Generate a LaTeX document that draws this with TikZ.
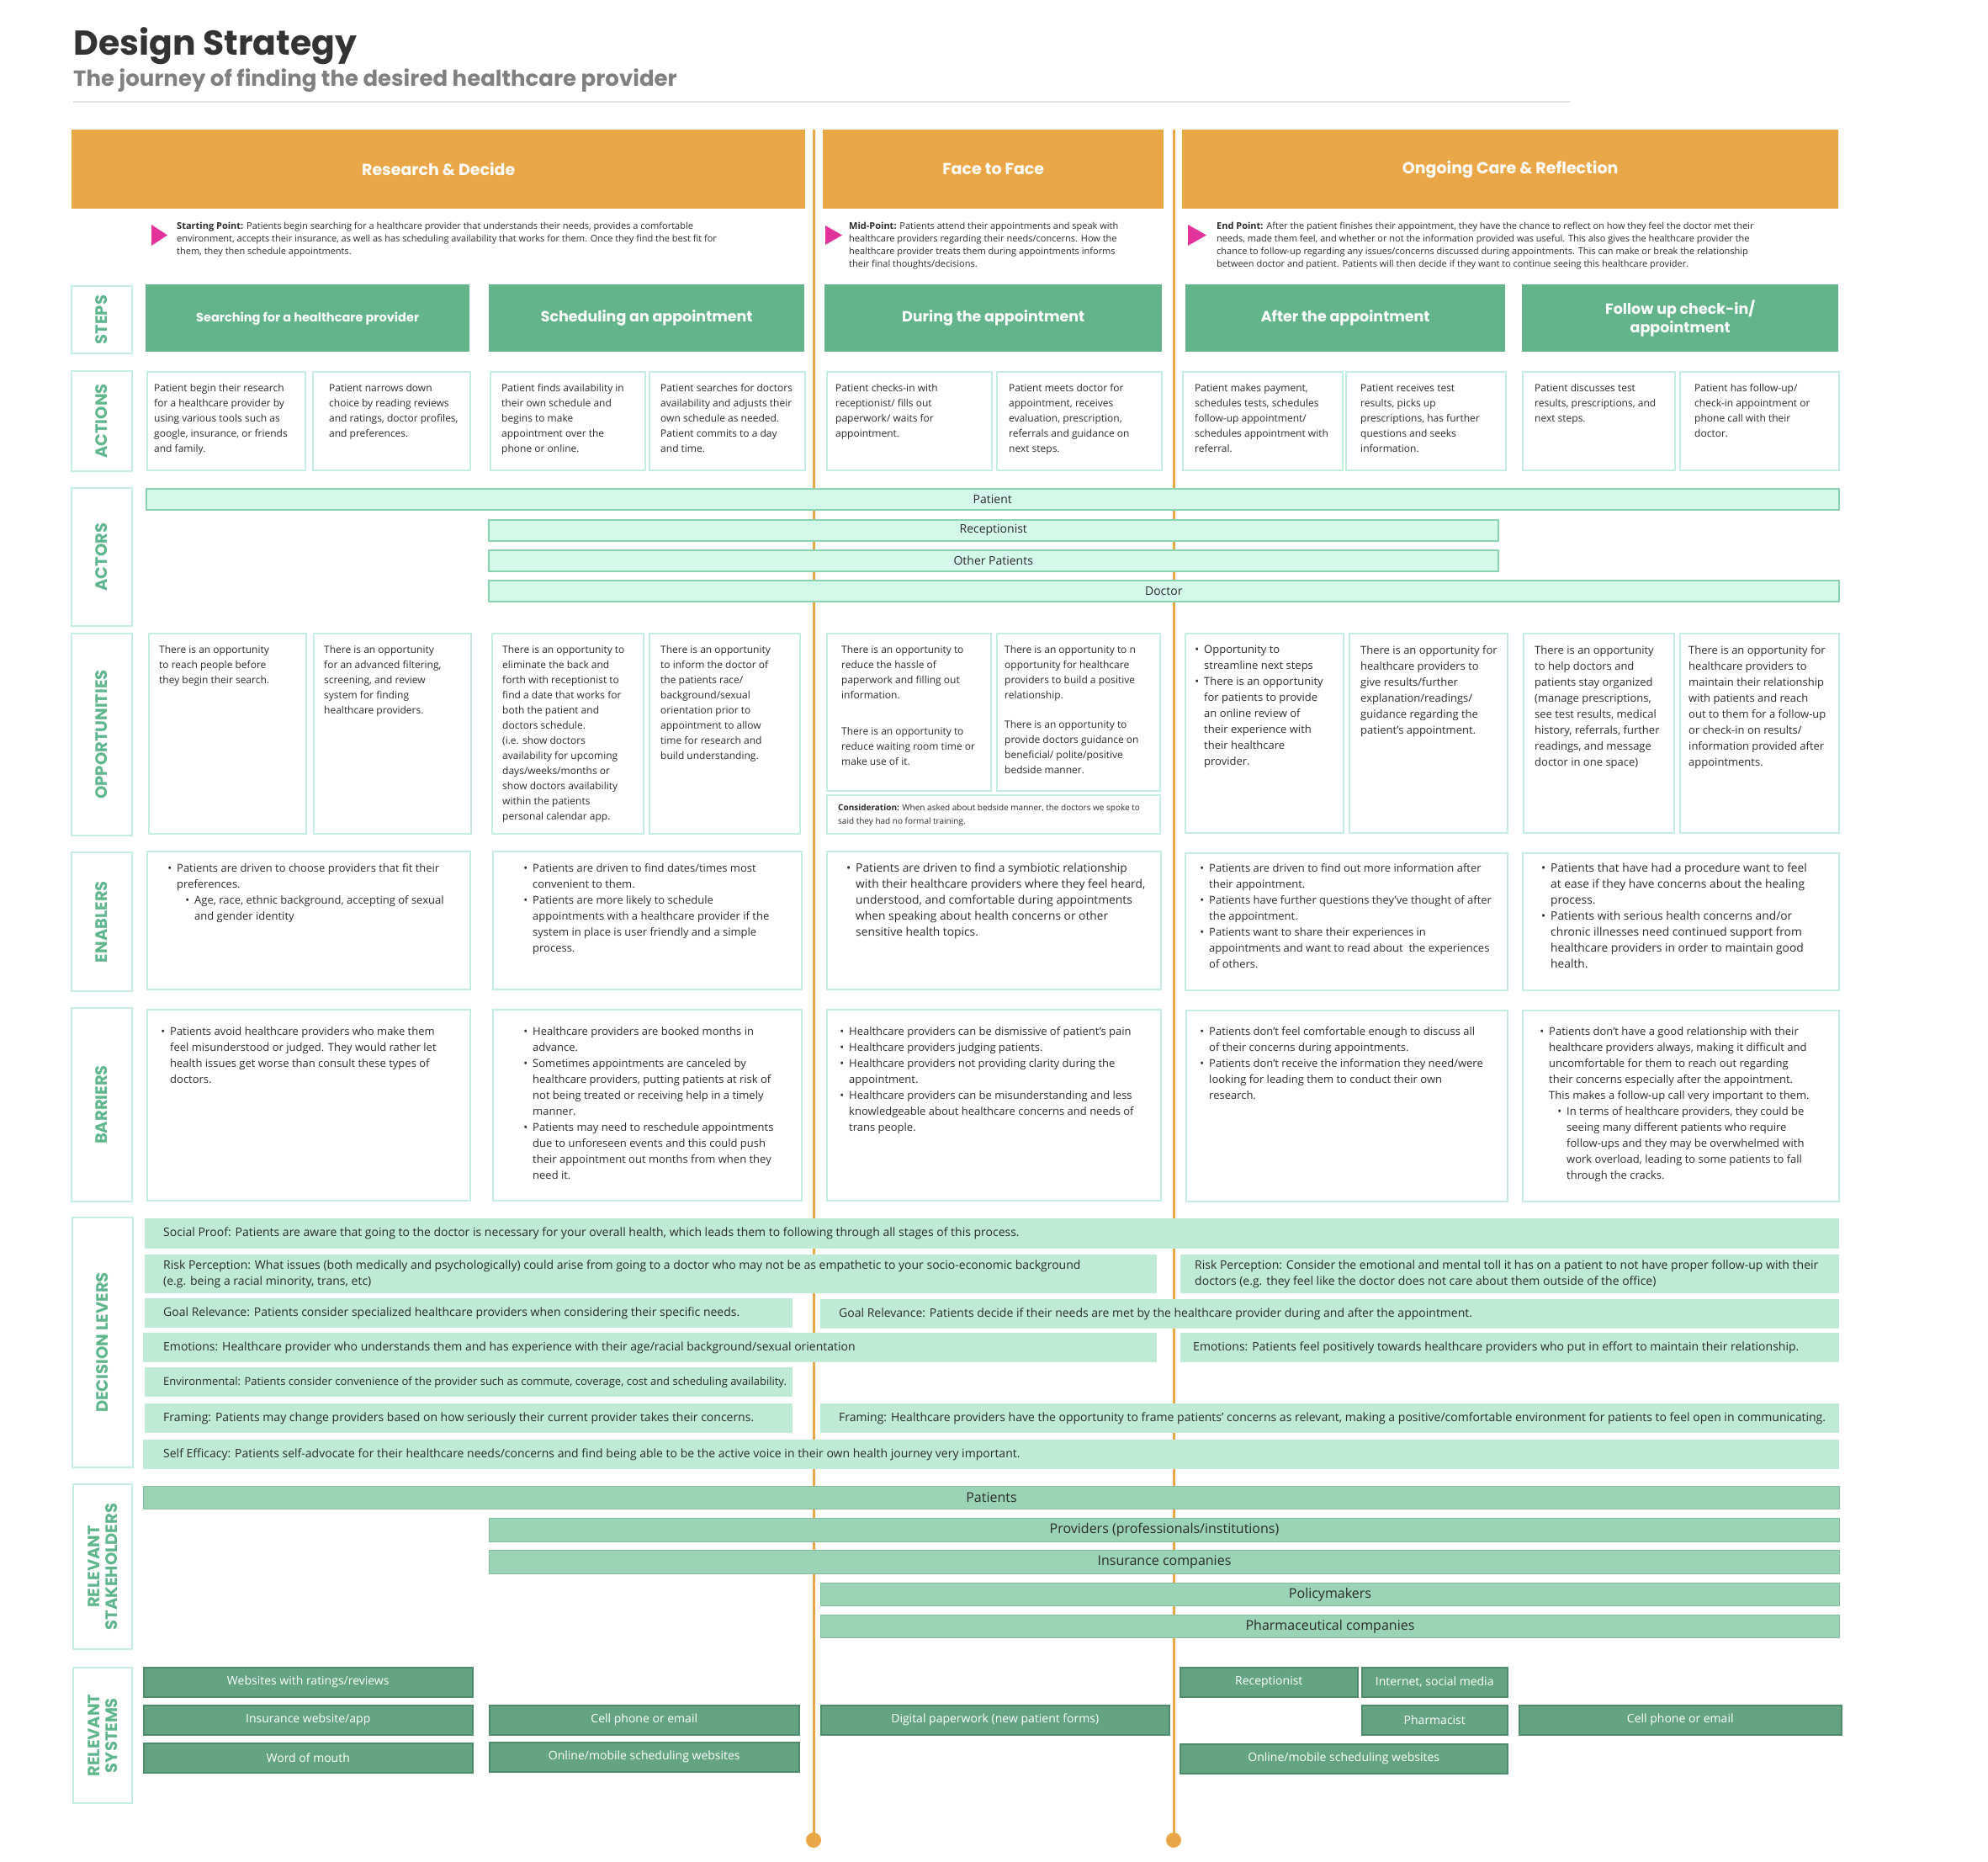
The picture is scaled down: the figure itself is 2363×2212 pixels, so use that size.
\documentclass[tikz,border=0pt]{standalone}
\usepackage{fontspec}
\setmainfont{Open Sans}
\newfontfamily\headfont{Poppins}
\usetikzlibrary{positioning}
\definecolor{phaseorange}{HTML}{EAA747}
\definecolor{markpink}{HTML}{E2329B}
\definecolor{stepgreen}{HTML}{63B38B}
\definecolor{mintline}{HTML}{C3EEDB}
\definecolor{labelgreen}{HTML}{5FB68C}
\definecolor{actorfill}{HTML}{D4F9EA}
\definecolor{actorline}{HTML}{8AD3B1}
\definecolor{leverfill}{HTML}{BFEBD6}
\definecolor{stakefill}{HTML}{9BD3B6}
\definecolor{stakeline}{HTML}{82BC9D}
\definecolor{sysfill}{HTML}{64A482}
\definecolor{sysline}{HTML}{4E8B6B}
\definecolor{inkgray}{HTML}{333333}
\definecolor{subgray}{HTML}{808080}
\definecolor{rulegray}{HTML}{E2E2E2}
\definecolor{bodytext}{HTML}{2B2B2B}
\newcommand\bul{\leavevmode\llap{\textbullet\hspace{6pt}}}

\begin{document}
\begin{tikzpicture}[x=1pt, y=-1pt,
  phase/.style={fill=phaseorange, text=white, anchor=north west, inner sep=0,
    font=\headfont\bfseries\fontsize{19}{23}\selectfont},
  intro/.style={anchor=north west, inner sep=0, align=left, text=bodytext,
    font=\fontsize{11}{15}\selectfont},
  rowbox/.style={draw=mintline, line width=2pt, anchor=north west, inner sep=0},
  rowname/.style={rotate=90, text=labelgreen, align=center, inner sep=0,
    font=\headfont\bfseries\fontsize{19.5}{21}\selectfont},
  stepbox/.style={fill=stepgreen, text=white, anchor=north west, inner sep=0,
    align=center, minimum height=80pt,
    font=\headfont\bfseries\fontsize{17.5}{22}\selectfont},
  card/.style={draw=mintline, line width=2pt, fill=white, anchor=north west, inner sep=0},
  cardtext/.style={anchor=north west, inner sep=0, align=left, text=bodytext,
    font=\fontsize{12}{18}\selectfont},
  cardtall/.style={cardtext, font=\fontsize{13}{19}\selectfont},
  cardwide/.style={cardtext, font=\fontsize{13.8}{19}\selectfont},
  actorbar/.style={draw=actorline, line width=1.5pt, fill=actorfill, anchor=north west,
    inner sep=0, minimum height=25pt, text=bodytext, font=\fontsize{14}{16}\selectfont},
  lever/.style={fill=leverfill, anchor=north west, inner sep=0},
  levertext/.style={inner sep=0, align=left, text=bodytext,
    font=\fontsize{14}{19}\selectfont},
  stake/.style={fill=stakefill, draw=stakeline, line width=1pt, anchor=north west,
    inner sep=0, minimum height=27pt, text=bodytext, font=\fontsize{16}{18}\selectfont},
  system/.style={fill=sysfill, draw=sysline, line width=1.5pt, anchor=north west,
    inner sep=0, minimum height=35pt, text=white, font=\fontsize{14}{16}\selectfont},
  timeline/.style={draw=phaseorange, line width=3pt},
  enddot/.style={circle, fill=phaseorange, minimum size=18pt, inner sep=0}]
\fill[white] (0,0) rectangle (2363,2212);
\useasboundingbox (0,0) rectangle (2363,2212);
% phase dividers
\coordinate (splitA) at (967,154);
\coordinate (splitB) at (1395,154);
\node[enddot] (endA) at (967,2187) {};
\node[enddot] (endB) at (1395,2187) {};
\draw[timeline] (splitA) -- (endA.center);
\draw[timeline] (splitB) -- (endB.center);
% title
\node[anchor=base west, inner sep=0, text=inkgray,
  font=\headfont\bfseries\fontsize{41}{46}\selectfont] (title) at (87,65) {Design Strategy};
\node[anchor=base west, inner sep=0, text=subgray,
  font=\headfont\bfseries\fontsize{26}{29}\selectfont] (subtitle) at (87,102)
  {The journey of finding the desired healthcare provider};
\draw[rulegray, line width=2pt] (87,121) -- (1866,121);
% phases
\node[phase, minimum width=872pt, minimum height=94pt] (research) at (85,154) {Research \& Decide};
\node[phase, minimum width=405pt, minimum height=94pt] (face) at (978,154) {Face to Face};
\node[phase, minimum width=780pt, minimum height=94pt] (ongoing) at (1405,154) {Ongoing Care \& Reflection};
\fill[markpink] (180,267) -- (199,279.5) -- (180,292) -- cycle;
\fill[markpink] (981,268) -- (1001,279.5) -- (981,291) -- cycle;
\fill[markpink] (1412,267) -- (1434,279.5) -- (1412,292) -- cycle;
\node[intro] (startpt) at (210,264) {\textbf{Starting Point:} Patients begin searching for a healthcare provider that understands their needs, provides a comfortable\\
  environment, accepts their insurance, as well as has scheduling availability that works for them. Once they find the best fit for\\
  them, they then schedule appointments.};
\node[intro] (midpt) at (1009,264) {\textbf{Mid-Point:} Patients attend their appointments and speak with\\
  healthcare providers regarding their needs/concerns. How the\\
  healthcare provider treats them during appointments informs\\
  their final thoughts/decisions.};
\node[intro] (endpt) at (1446,264) {\textbf{End Point:} After the patient finishes their appointment, they have the chance to reflect on how they feel the doctor met their\\
  needs, made them feel, and whether or not the information provided was useful. This also gives the healthcare provider the\\
  chance to follow-up regarding any issues/concerns discussed during appointments. This can make or break the relationship\\
  between doctor and patient. Patients will then decide if they want to continue seeing this healthcare provider.};
% row labels
\node[rowbox, minimum width=72pt, minimum height=80pt] (lbsteps) at (84,339) {};
\node[rowname] at (lbsteps.center) {STEPS};
\node[rowbox, minimum width=72pt, minimum height=119pt] (lbactions) at (84,440) {};
\node[rowname] at (lbactions.center) {ACTIONS};
\node[rowbox, minimum width=72pt, minimum height=164pt] (lbactors) at (84,579) {};
\node[rowname] at (lbactors.center) {ACTORS};
\node[rowbox, minimum width=72pt, minimum height=240pt] (lbopps) at (84,752) {};
\node[rowname] at (lbopps.center) {OPPORTUNITIES};
\node[rowbox, minimum width=72pt, minimum height=165pt] (lbenab) at (84,1012) {};
\node[rowname] at (lbenab.center) {ENABLERS};
\node[rowbox, minimum width=72pt, minimum height=230pt] (lbbarr) at (84,1197) {};
\node[rowname] at (lbbarr.center) {BARRIERS};
\node[rowbox, minimum width=72pt, minimum height=297pt] (lblevers) at (85,1446) {};
\node[rowname] at (lblevers.center) {DECISION LEVERS};
\node[rowbox, minimum width=70pt, minimum height=196pt] (lbstake) at (86,1763) {};
\node[rowname] at (lbstake.center) {RELEVANT\\STAKEHOLDERS};
\node[rowbox, minimum width=70pt, minimum height=161pt] (lbsys) at (86,1981) {};
\node[rowname] at (lbsys.center) {RELEVANT\\SYSTEMS};
% steps
\node[stepbox, minimum width=385pt, font=\headfont\bfseries\fontsize{14.5}{18}\selectfont] (search) at (173,338) {Searching for a healthcare provider};
\node[stepbox, minimum width=375pt] (schedule) at (581,338) {Scheduling an appointment};
\node[stepbox, minimum width=401pt] (during) at (980,338) {During the appointment};
\node[stepbox, minimum width=380pt] (after) at (1409,338) {After the appointment};
\node[stepbox, minimum width=376pt] (followup) at (1809,338) {Follow up check-in/\\appointment};
% actions
\node[card, minimum width=188pt, minimum height=117pt] (a1) at (174,441) {};
\node[cardtext, below right=15pt and 9pt of a1.north west] {Patient begin their research\\ for a healthcare provider by\\ using various tools such as\\ google, insurance, or friends\\ and family.};
\node[card, minimum width=187pt, minimum height=117pt] (a2) at (371,441) {};
\node[cardtext, below right=15pt and 20pt of a2.north west] {Patient narrows down\\ choice by reading reviews\\ and ratings, doctor profiles,\\ and preferences.};
\node[card, minimum width=184pt, minimum height=117pt] (a3) at (582,441) {};
\node[cardtext, below right=15pt and 14pt of a3.north west] {Patient finds availability in\\ their own schedule and\\ begins to make\\ appointment over the\\ phone or online.};
\node[card, minimum width=185pt, minimum height=117pt] (a4) at (771,441) {};
\node[cardtext, below right=15pt and 14pt of a4.north west] {Patient searches for doctors\\ availability and adjusts their\\ own schedule as needed.\\ Patient commits to a day\\ and time.};
\node[card, minimum width=196pt, minimum height=117pt] (a5) at (982,441) {};
\node[cardtext, below right=15pt and 11pt of a5.north west] {Patient checks-in with\\ receptionist/ fills out\\ paperwork/ waits for\\ appointment.};
\node[card, minimum width=196pt, minimum height=117pt] (a6) at (1184,441) {};
\node[cardtext, below right=15pt and 15pt of a6.north west] {Patient meets doctor for\\ appointment, receives\\ evaluation, prescription,\\ referrals and guidance on\\ next steps.};
\node[card, minimum width=190pt, minimum height=117pt] (a7) at (1405,441) {};
\node[cardtext, below right=15pt and 15pt of a7.north west] {Patient makes payment,\\ schedules tests, schedules\\ follow-up appointment/\\ schedules appointment with\\ referral.};
\node[card, minimum width=190pt, minimum height=117pt] (a8) at (1599,441) {};
\node[cardtext, below right=15pt and 18pt of a8.north west] {Patient receives test\\ results, picks up\\ prescriptions, has further\\ questions and seeks\\ information.};
\node[card, minimum width=181pt, minimum height=117pt] (a9) at (1809,441) {};
\node[cardtext, below right=15pt and 15pt of a9.north west] {Patient discusses test\\ results, prescriptions, and\\ next steps.};
\node[card, minimum width=189pt, minimum height=117pt] (a10) at (1996,441) {};
\node[cardtext, below right=15pt and 18pt of a10.north west] {Patient has follow-up/\\ check-in appointment or\\ phone call with their\\ doctor.};
% actors
\node[actorbar, minimum width=2012pt] (patient) at (173,580) {Patient};
\node[actorbar, minimum width=1200pt] (receptionist) at (580,617) {Receptionist};
\node[actorbar, minimum width=1200pt] (others) at (580,653) {Other Patients};
\node[actorbar, minimum width=1605pt] (doctor) at (580,689) {Doctor};
% opportunities
\node[card, minimum width=187pt, minimum height=238pt] (o1) at (176,752) {};
\node[cardtext, below right=15pt and 13pt of o1.north west] {There is an opportunity\\ to reach people before\\ they begin their search.};
\node[card, minimum width=187pt, minimum height=238pt] (o2) at (372,752) {};
\node[cardtext, below right=15pt and 13pt of o2.north west] {There is an opportunity\\ for an advanced filtering,\\ screening, and review\\ system for finding\\ healthcare providers.};
\node[card, minimum width=180pt, minimum height=238pt] (o3) at (584,752) {};
\node[cardtext, below right=15pt and 13pt of o3.north west] {There is an opportunity to\\ eliminate the back and\\ forth with receptionist to\\ find a date that works for\\ both the patient and\\ doctors schedule.\\ (i.e. show doctors\\ availability for upcoming\\ days/weeks/months or\\ show doctors availability\\ within the patients\\ personal calendar app.};
\node[card, minimum width=179pt, minimum height=238pt] (o4) at (771,752) {};
\node[cardtext, below right=15pt and 14pt of o4.north west] {There is an opportunity\\ to inform the doctor of\\ the patients race/\\ background/sexual\\ orientation prior to\\ appointment to allow\\ time for research and\\ build understanding.};
\node[card, minimum width=195pt, minimum height=187pt] (o5) at (982,752) {};
\node[cardtext, below right=15pt and 18pt of o5.north west] {There is an opportunity to\\ reduce the hassle of\\ paperwork and filling out\\ information.\\[25pt] There is an opportunity to\\ reduce waiting room time or\\ make use of it.};
\node[card, minimum width=194pt, minimum height=187pt] (o6) at (1184,752) {};
\node[cardtext, below right=15pt and 10pt of o6.north west] {There is an opportunity to n\\ opportunity for healthcare\\ providers to build a positive\\ relationship.\\[17pt] There is an opportunity to\\ provide doctors guidance on\\ beneficial/ polite/positive\\ bedside manner.};
\node[card, minimum width=396pt, minimum height=46pt] (consider) at (982,944) {};
\node[cardtext, font=\fontsize{10}{16}\selectfont, below right=12pt and 14pt of consider.north west] {\textbf{Consideration:} When asked about bedside manner, the doctors we spoke to\\ said they had no formal training.};
\node[card, minimum width=188pt, minimum height=237pt] (o7) at (1408,752) {};
\node[cardtall, below right=15pt and 23pt of o7.north west] {\bul Opportunity to\\ streamline next steps\\ \bul There is an opportunity\\ for patients to provide\\ an online review of\\ their experience with\\ their healthcare\\ provider.};
\node[card, minimum width=188pt, minimum height=237pt] (o8) at (1603,752) {};
\node[cardtall, below right=15pt and 14pt of o8.north west] {There is an opportunity for\\ healthcare providers to\\ give results/further\\ explanation/readings/\\ guidance regarding the\\ patient’s appointment.};
\node[card, minimum width=179pt, minimum height=237pt] (o9) at (1810,752) {};
\node[cardtall, below right=15pt and 14pt of o9.north west] {There is an opportunity\\ to help doctors and\\ patients stay organized\\ (manage prescriptions,\\ see test results, medical\\ history, referrals, further\\ readings, and message\\ doctor in one space)};
\node[card, minimum width=189pt, minimum height=237pt] (o10) at (1996,752) {};
\node[cardtall, below right=15pt and 11pt of o10.north west] {There is an opportunity for\\ healthcare providers to\\ maintain their relationship\\ with patients and reach\\ out to them for a follow-up\\ or check-in on results/\\ information provided after\\ appointments.};
% enablers
\node[card, minimum width=384pt, minimum height=164pt] (e1) at (174,1011) {};
\node[cardtall, below right=15pt and 36pt of e1.north west] {\bul Patients are driven to choose providers that fit their\\ preferences.\\ \hspace*{21pt}\bul Age, race, ethnic background, accepting of sexual\\ \hspace*{21pt}and gender identity};
\node[card, minimum width=367pt, minimum height=164pt] (e2) at (585,1011) {};
\node[cardtall, below right=15pt and 48pt of e2.north west] {\bul Patients are driven to find dates/times most\\ convenient to them.\\ \bul Patients are more likely to schedule\\ appointments with a healthcare provider if the\\ system in place is user friendly and a simple\\ process.};
\node[card, minimum width=397pt, minimum height=164pt] (e3) at (982,1011) {};
\node[cardwide, below right=15pt and 35pt of e3.north west] {\bul Patients are driven to find a symbiotic relationship\\ with their healthcare providers where they feel heard,\\ understood, and comfortable during appointments\\ when speaking about health concerns or other\\ sensitive health topics.};
\node[card, minimum width=383pt, minimum height=163pt] (e4) at (1408,1013) {};
\node[cardtall, below right=13pt and 29pt of e4.north west] {\bul Patients are driven to find out more information after\\ their appointment.\\ \bul Patients have further questions they’ve thought of after\\ the appointment.\\ \bul Patients want to share their experiences in\\ appointments and want to read about\ \ the experiences\\ of others.};
\node[card, minimum width=376pt, minimum height=163pt] (e5) at (1809,1013) {};
\node[cardwide, below right=13pt and 34pt of e5.north west] {\bul Patients that have had a procedure want to feel\\ at ease if they have concerns about the healing\\ process.\\ \bul Patients with serious health concerns and/or\\ chronic illnesses need continued support from\\ healthcare providers in order to maintain good\\ health.};
% barriers
\node[card, minimum width=384pt, minimum height=227pt] (b1) at (174,1199) {};
\node[cardtall, below right=21pt and 28pt of b1.north west] {\bul Patients avoid healthcare providers who make them\\ feel misunderstood or judged. They would rather let\\ health issues get worse than consult these types of\\ doctors.};
\node[card, minimum width=367pt, minimum height=227pt] (b2) at (585,1199) {};
\node[cardtall, below right=21pt and 48pt of b2.north west] {\bul Healthcare providers are booked months in\\ advance.\\ \bul Sometimes appointments are canceled by\\ healthcare providers, putting patients at risk of\\ not being treated or receiving help in a timely\\ manner.\\ \bul Patients may need to reschedule appointments\\ due to unforeseen events and this could push\\ their appointment out months from when they\\ need it.};
\node[card, minimum width=397pt, minimum height=227pt] (b3) at (982,1199) {};
\node[cardtall, below right=21pt and 27pt of b3.north west] {\bul Healthcare providers can be dismissive of patient’s pain\\ \bul Healthcare providers judging patients.\\ \bul Healthcare providers not providing clarity during the\\ appointment.\\ \bul Healthcare providers can be misunderstanding and less\\ knowledgeable about healthcare concerns and needs of\\ trans people.};
\node[card, minimum width=382pt, minimum height=227pt] (b4) at (1409,1200) {};
\node[cardtall, below right=20pt and 28pt of b4.north west] {\bul Patients don’t feel comfortable enough to discuss all\\ of their concerns during appointments.\\ \bul Patients don’t receive the information they need/were\\ looking for leading them to conduct their own\\ research.};
\node[card, minimum width=376pt, minimum height=227pt] (b5) at (1809,1200) {};
\node[cardtall, below right=20pt and 32pt of b5.north west] {\bul Patients don’t have a good relationship with their\\ healthcare providers always, making it difficult and\\ uncomfortable for them to reach out regarding\\ their concerns especially after the appointment.\\ This makes a follow-up call very important to them.\\ \hspace*{21pt}\bul In terms of healthcare providers, they could be\\ \hspace*{21pt}seeing many different patients who require\\ \hspace*{21pt}follow-ups and they may be overwhelmed with\\ \hspace*{21pt}work overload, leading to some patients to fall\\ \hspace*{21pt}through the cracks.};
% decision levers
\node[lever, minimum width=2014pt, minimum height=36pt] (lv1) at (172,1448) {};
\node[levertext, right=22pt of lv1.west] {Social Proof: Patients are aware that going to the doctor is necessary for your overall health, which leads them to following through all stages of this process.};
\node[lever, minimum width=1203pt, minimum height=46pt] (lv2a) at (172,1491) {};
\node[levertext, right=22pt of lv2a.west] {Risk Perception: What issues (both medically and psychologically) could arise from going to a doctor who may not be as empathetic to your socio-economic background\\ (e.g. being a racial minority, trans, etc)};
\node[lever, minimum width=783pt, minimum height=46pt] (lv2b) at (1403,1491) {};
\node[levertext, right=17pt of lv2b.west] {Risk Perception: Consider the emotional and mental toll it has on a patient to not have proper follow-up with their\\ doctors (e.g. they feel like the doctor does not care about them outside of the office)};
\node[lever, minimum width=770pt, minimum height=35pt] (lv3a) at (172,1543) {};
\node[levertext, right=22pt of lv3a.west] {Goal Relevance: Patients consider specialized healthcare providers when considering their specific needs.};
\node[lever, minimum width=1211pt, minimum height=35pt] (lv3b) at (975,1544) {};
\node[levertext, right=22pt of lv3b.west] {Goal Relevance: Patients decide if their needs are met by the healthcare provider during and after the appointment.};
\node[lever, minimum width=1205pt, minimum height=35pt] (lv4a) at (170,1584) {};
\node[levertext, right=24pt of lv4a.west] {Emotions: Healthcare provider who understands them and has experience with their age/racial background/sexual orientation};
\node[lever, minimum width=783pt, minimum height=35pt] (lv4b) at (1403,1584) {};
\node[levertext, right=15pt of lv4b.west] {Emotions: Patients feel positively towards healthcare providers who put in effort to maintain their relationship.};
\node[lever, minimum width=770pt, minimum height=35pt] (lv5) at (172,1625) {};
\node[levertext, font=\fontsize{13}{19}\selectfont, right=22pt of lv5.west] {Environmental: Patients consider convenience of the provider such as commute, coverage, cost and scheduling availability.};
\node[lever, minimum width=770pt, minimum height=35pt] (lv6a) at (172,1668) {};
\node[levertext, right=22pt of lv6a.west] {Framing: Patients may change providers based on how seriously their current provider takes their concerns.};
\node[lever, minimum width=1211pt, minimum height=35pt] (lv6b) at (975,1668) {};
\node[levertext, right=22pt of lv6b.west] {Framing: Healthcare providers have the opportunity to frame patients’ concerns as relevant, making a positive/comfortable environment for patients to feel open in communicating.};
\node[lever, minimum width=2016pt, minimum height=35pt] (lv7) at (170,1711) {};
\node[levertext, right=24pt of lv7.west] {Self Efficacy: Patients self-advocate for their healthcare needs/concerns and find being able to be the active voice in their own health journey very important.};
% stakeholders
\node[stake, minimum width=2016pt] (shpatients) at (170,1766) {Patients};
\node[stake, minimum width=1605pt, minimum height=28pt] (shproviders) at (581,1804) {Providers (professionals/institutions)};
\node[stake, minimum width=1605pt, minimum height=28pt] (shinsurance) at (581,1842) {Insurance companies};
\node[stake, minimum width=1211pt] (shpolicy) at (975,1881) {Policymakers};
\node[stake, minimum width=1211pt] (shpharma) at (975,1919) {Pharmaceutical companies};
% systems
\node[system, minimum width=391pt] (syreviews) at (170,1981) {Websites with ratings/reviews};
\node[system, minimum width=391pt] (syinsurance) at (170,2026) {Insurance website/app};
\node[system, minimum width=391pt] (symouth) at (170,2071) {Word of mouth};
\node[system, minimum width=368pt] (sycell) at (581,2026) {Cell phone or email};
\node[system, minimum width=368pt] (syonline) at (581,2070) {Online/mobile scheduling websites};
\node[system, minimum width=414pt] (sypaper) at (975,2026) {Digital paperwork (new patient forms)};
\node[system, minimum width=211pt] (syrecept) at (1402,1981) {Receptionist};
\node[system, minimum width=173pt] (sysocial) at (1618,1981) {Internet, social media};
\node[system, minimum width=173pt] (sypharm) at (1618,2026) {Pharmacist};
\node[system, minimum width=383pt] (sycelltwo) at (1805,2026) {Cell phone or email};
\node[system, minimum width=389pt] (syonlinetwo) at (1402,2072) {Online/mobile scheduling websites};
\end{tikzpicture}
\end{document}
